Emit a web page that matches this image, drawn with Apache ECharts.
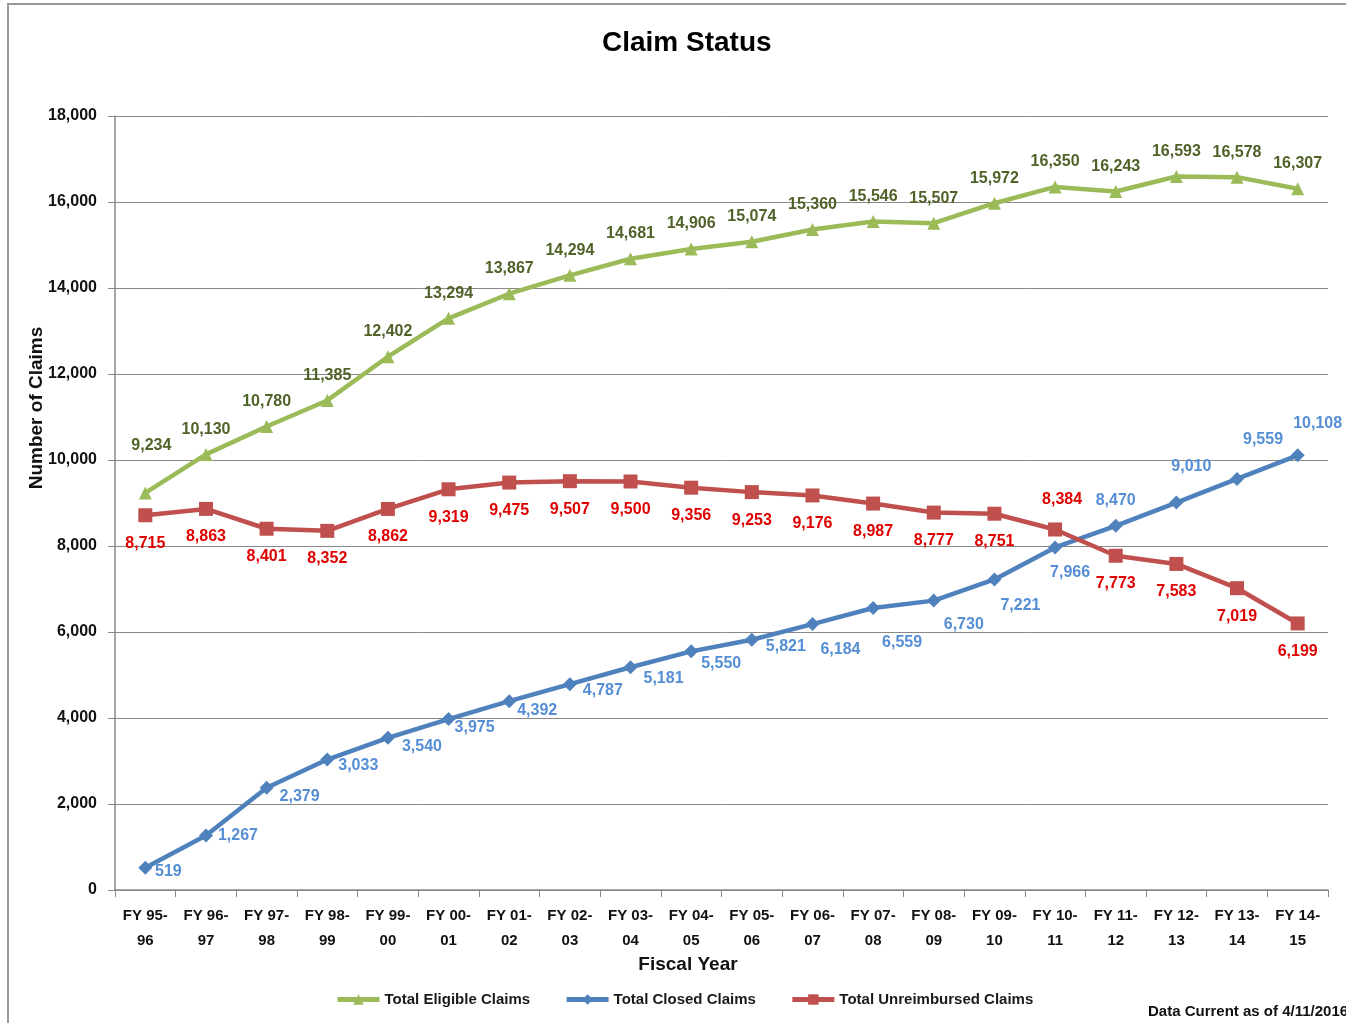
<!DOCTYPE html>
<html>
<head>
<meta charset="utf-8">
<title>Claim Status</title>
<script src="https://cdn.jsdelivr.net/npm/echarts@6/dist/echarts.min.js"></script>
<style>
  html, body { margin: 0; padding: 0; background: #fff; }
  #main { width: 1346px; height: 1023px; }
</style>
</head>
<body>
<div id="main"></div>
<script>
// data
var fiscalYears = ['FY 95-\n96', 'FY 96-\n97', 'FY 97-\n98', 'FY 98-\n99', 'FY 99-\n00',
  'FY 00-\n01', 'FY 01-\n02', 'FY 02-\n03', 'FY 03-\n04', 'FY 04-\n05',
  'FY 05-\n06', 'FY 06-\n07', 'FY 07-\n08', 'FY 08-\n09', 'FY 09-\n10',
  'FY 10-\n11', 'FY 11-\n12', 'FY 12-\n13', 'FY 13-\n14', 'FY 14-\n15'];
var eligibleClaims = [9234, 10130, 10780, 11385, 12402, 13294, 13867, 14294, 14681, 14906,
  15074, 15360, 15546, 15507, 15972, 16350, 16243, 16593, 16578, 16307];
var closedClaims = [519, 1267, 2379, 3033, 3540, 3975, 4392, 4787, 5181, 5550,
  5821, 6184, 6559, 6730, 7221, 7966, 8470, 9010, 9559, 10108];
var unreimbursedClaims = [8715, 8863, 8401, 8352, 8862, 9319, 9475, 9507, 9500, 9356,
  9253, 9176, 8987, 8777, 8751, 8384, 7773, 7583, 7019, 6199];

// where each data label sits, relative to its point (px)
var greenLabelOffset = function (i) { return i === 0 ? [6, -47] : [0, -25]; };
var redLabelOffset = function (i) { return i === 15 ? [7, -30] : [0, 28]; };
var blueLabelOffsets = [[23, 4], [32, 0], [33, 9], [31, 6], [34, 9], [26, 9], [28, 9], [33, 6],
  [33, 11], [30, 12], [34, 7], [28, 26], [29, 35], [30, 24], [26, 26], [15, 25],
  [0, -25], [15, -36], [26, -39], [20, -32]];

var font = 'Liberation Sans';

function withLabels(values, color, offsetFn) {
  return values.map(function (v, i) {
    return {
      value: v,
      label: {
        show: true,
        position: 'inside',
        offset: offsetFn(i),
        color: color,
        fontFamily: font,
        fontWeight: 'bold',
        fontSize: 16,
        formatter: function (p) { return p.value.toLocaleString('en-US'); }
      }
    };
  });
}

var chart = echarts.init(document.getElementById('main'));
chart.setOption({
  backgroundColor: '#fff',
  animation: false,
  textStyle: { fontFamily: font },
  title: {
    text: 'Claim Status',
    left: 597,
    top: 24,
    textStyle: { fontSize: 28, fontWeight: 'bold', color: '#000', fontFamily: font }
  },
  legend: {
    top: 987,
    left: 330,
    itemWidth: 42,
    itemHeight: 13,
    itemGap: 34,
    lineStyle: { width: 5 },
    textStyle: { fontSize: 15, fontWeight: 'bold', color: '#1a1a1a', fontFamily: font },
    data: ['Total Eligible Claims', 'Total Closed Claims', 'Total Unreimbursed Claims']
  },
  grid: { left: 115, right: 18, top: 116, bottom: 133 },
  xAxis: {
    type: 'category',
    data: fiscalYears,
    axisLine: { lineStyle: { color: '#888', width: 1.5 } },
    axisTick: { show: true, length: 7, lineStyle: { color: '#888' } },
    axisLabel: {
      interval: 0, margin: 13, color: '#111', fontSize: 15, fontWeight: 'bold', lineHeight: 25
    }
  },
  yAxis: {
    type: 'value',
    min: 0,
    max: 18000,
    interval: 2000,
    axisLine: { show: true, lineStyle: { color: '#888', width: 1.5 } },
    axisTick: { show: true, length: 7, lineStyle: { color: '#888' } },
    splitLine: { lineStyle: { color: '#888', width: 1 } },
    axisLabel: {
      margin: 18, color: '#111', fontSize: 16, fontWeight: 'bold',
      formatter: function (v) { return v.toLocaleString('en-US'); }
    }
  },
  graphic: [
    {
      type: 'rect',
      shape: { x: 8, y: 4, width: 1400, height: 1100 },
      style: { fill: 'none', stroke: '#999', lineWidth: 2 },
      silent: true
    },
    {
      type: 'text',
      x: 37, y: 408,
      rotation: Math.PI / 2,
      style: {
        text: 'Number of Claims', fill: '#111', fontSize: 19, fontWeight: 'bold',
        fontFamily: font, align: 'center', verticalAlign: 'middle'
      }
    },
    {
      type: 'text',
      x: 688, y: 965,
      style: {
        text: 'Fiscal Year', fill: '#111', fontSize: 19, fontWeight: 'bold',
        fontFamily: font, align: 'center', verticalAlign: 'middle'
      }
    },
    {
      type: 'text',
      x: 1148, y: 1012,
      style: {
        text: 'Data Current as of 4/11/2016', fill: '#111', fontSize: 15, fontWeight: 'bold',
        fontFamily: font, verticalAlign: 'middle'
      }
    }
  ],
  series: [
    {
      name: 'Total Eligible Claims',
      type: 'line',
      data: withLabels(eligibleClaims, '#4f6228', greenLabelOffset),
      symbol: 'triangle',
      symbolSize: 13,
      lineStyle: { width: 4.5, color: '#9bbb59' },
      itemStyle: { color: '#9bbb59' }
    },
    {
      name: 'Total Closed Claims',
      type: 'line',
      data: withLabels(closedClaims, '#558ed5', function (i) { return blueLabelOffsets[i]; }),
      symbol: 'diamond',
      symbolSize: 14,
      lineStyle: { width: 4.5, color: '#4f81bd' },
      itemStyle: { color: '#4f81bd' }
    },
    {
      name: 'Total Unreimbursed Claims',
      type: 'line',
      data: withLabels(unreimbursedClaims, '#e00000', redLabelOffset),
      symbol: 'rect',
      symbolSize: 14,
      lineStyle: { width: 4.5, color: '#c0504d' },
      itemStyle: { color: '#c0504d' }
    }
  ]
});
</script>
</body>
</html>
